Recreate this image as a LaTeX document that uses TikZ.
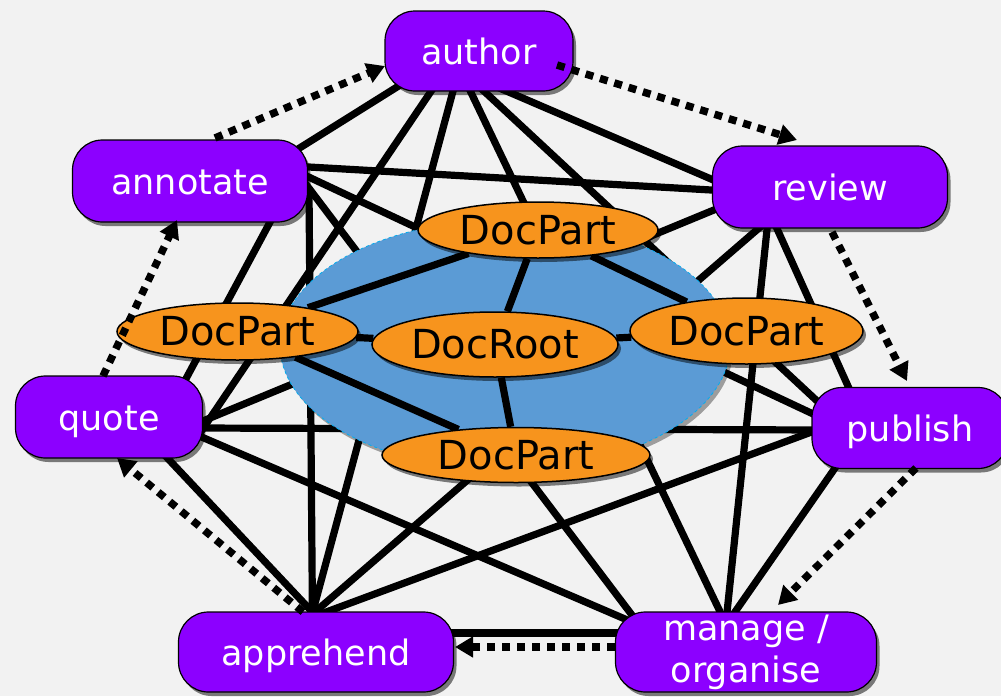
\documentclass[tikz,border=0pt]{standalone}
\usepackage{fontspec}
\newfontfamily\rolefont{DejaVu Sans}
\usetikzlibrary{positioning, arrows.meta, shapes.geometric, calc, shadows}

\definecolor{rolepurple}{RGB}{140,0,255}
\definecolor{partorange}{RGB}{247,148,29}
\definecolor{hubblue}{RGB}{91,155,213}
\definecolor{bggray}{RGB}{242,242,242}

\pgfdeclarelayer{paper}
\pgfdeclarelayer{edges}
\pgfdeclarelayer{hub}
\pgfsetlayers{paper,edges,hub,main}

\begin{document}
\begin{tikzpicture}[x=1pt, y=-1pt,
    rolebox/.style={rectangle, rounded corners=30pt, draw=black, line width=1.2pt,
                    fill=rolepurple, text=white, inner sep=0pt,
                    font=\rolefont\fontsize{35}{42}\selectfont,
                    drop shadow={shadow xshift=3pt, shadow yshift=-4pt, fill=black, opacity=0.5}},
    roleline/.style={rolebox, text height=33pt, text depth=7pt},
    docpart/.style={ellipse, draw=black, line width=1.5pt, fill=partorange, inner sep=0pt,
                    font=\rolefont\fontsize{40}{48}\selectfont,
                    drop shadow={shadow xshift=3pt, shadow yshift=-4pt, fill=black, opacity=0.5}},
    tie/.style={line width=7.2pt},
    handoff/.style={-{Triangle[length=18pt, width=20pt]}, line width=7.5pt, dash pattern=on 8pt off 7pt}
]

    % Paper
    \useasboundingbox (0,0) rectangle (1001,696);
    \begin{pgfonlayer}{paper}
        \fill[bggray] (0,0) rectangle (1001,696);
    \end{pgfonlayer}

    % Roles
    \node[roleline, minimum width=188pt, minimum height=80pt] (author) at (479,51) {author};
    \node[roleline, minimum width=235pt, minimum height=82pt] (annotate) at (190,181) {annotate};
    \node[roleline, minimum width=235pt, minimum height=82pt] (review) at (830,187) {review};
    \node[roleline, minimum width=187pt, minimum height=82pt] (quote) at (109,417) {quote};
    \node[roleline, minimum width=196pt, minimum height=81pt] (publish) at (910,428) {publish};
    \node[roleline, minimum width=275pt, minimum height=80pt] (apprehend) at (316,652) {apprehend};
    \node[rolebox, align=center, minimum width=261pt, minimum height=80pt] (manage) at (746,652) {manage /\\organise};

    % Doc parts
    \node[docpart, minimum width=240pt, minimum height=56pt] (dpt) at (538,230) {DocPart};
    \node[docpart, minimum width=241pt, minimum height=57pt] (dpl) at (237.5,331.5) {DocPart};
    \node[docpart, minimum width=233pt, minimum height=66pt] (dpr) at (746.5,331) {DocPart};
    \node[docpart, minimum width=268pt, minimum height=55pt] (dpb) at (516,455) {DocPart};
    \node[docpart, minimum width=246pt, minimum height=65pt] (root) at (495,344.5) {DocRoot};

    % Hub and its inner links
    \begin{pgfonlayer}{hub}
        \node[ellipse, fill=hubblue, draw=cyan, dashed, line width=0.8pt, inner sep=0pt,
              minimum width=450pt, minimum height=250pt,
              drop shadow={shadow xshift=3pt, shadow yshift=-4pt, fill=black, opacity=0.35}] (docs) at (505,345) {};
        \draw[tie] (dpl) -- (dpt);
        \draw[tie] (dpl) -- (root);
        \draw[tie] (dpt) -- (root);
        \draw[tie] (dpt) -- (dpr);
        \draw[tie] (root) -- (dpr);
        \draw[tie] (root) -- (dpb);
        \draw[tie] (dpl) -- (dpb);
    \end{pgfonlayer}

    % Links between roles
    \begin{pgfonlayer}{edges}
        \draw[tie] ($(author)+(-66,26)$) -- ($(annotate)+(100,-27)$);
        \draw[tie] ($(author)+(11,33)$) -- ($(review)+(-105,-2)$);
        \draw[tie] ($(author)+(-41,30)$) -- ($(quote)+(89,19)$);
        \draw[tie] ($(author)+(-7,29)$) -- ($(publish)+(-80,-15)$);
        \draw[tie] ($(author)+(-23,29)$) -- ($(apprehend)+(-6,-30)$);
        \draw[tie] ($(author)+(-14,29)$) -- ($(manage)+(-21,-30)$);
        \draw[tie] ($(annotate)+(110,-14.5)$) -- ($(review)+(-110,3.5)$);
        \draw[tie] ($(annotate)+(86,30)$) -- ($(quote)+(72,-29)$);
        \draw[tie] ($(annotate)+(108,-9)$) -- ($(publish)+(-83,-7.5)$);
        \draw[tie] ($(annotate)+(119,9)$) -- ($(apprehend)+(-3.5,-30)$);
        \draw[tie] ($(annotate)+(112,-2)$) -- ($(manage)+(-105,-25)$);
        \draw[tie] ($(review)+(-104,18)$) -- ($(quote)+(83,8.5)$);
        \draw[tie] ($(review)+(-56,35)$) -- ($(publish)+(-58,-33)$);
        \draw[tie] ($(review)+(-64,35)$) -- ($(apprehend)+(-8,-34)$);
        \draw[tie] ($(review)+(-62,33)$) -- ($(manage)+(-20,-30)$);
        \draw[tie] ($(quote)+(86,11)$) -- ($(publish)+(-85,2)$);
        \draw[tie] ($(quote)+(48,30)$) -- ($(apprehend)+(1,-35)$);
        \draw[tie] ($(quote)+(74,12)$) -- ($(manage)+(-114,-30)$);
        \draw[tie] ($(publish)+(-85,-1)$) -- ($(apprehend)+(-6,-34)$);
        \draw[tie] ($(publish)+(-68,30)$) -- ($(manage)+(-18,-30)$);
        \draw[tie] ($(apprehend)+(129,-19)$) -- ($(manage)+(-121,-19)$);
    \end{pgfonlayer}

    % Workflow
    \draw[handoff] ($(annotate)+(25,-43)$) -- ($(author)+(-94,15)$);
    \draw[handoff] ($(author)+(78,14)$) -- ($(review)+(-33,-47)$);
    \draw[handoff] ($(review)+(2,45)$) -- ($(publish)+(-3,-47)$);
    \draw[handoff] ($(publish)+(6,40)$) -- ($(manage)+(32,-47)$);
    \draw[handoff] ($(manage)+(-131,-5)$) -- ($(apprehend)+(139,-5)$);
    \draw[handoff] ($(apprehend)+(-13,-40)$) -- ($(quote)+(8,41)$);
    \draw[handoff] ($(quote)+(-6,-41)$) -- ($(annotate)+(-13,39)$);

\end{tikzpicture}
\end{document}
